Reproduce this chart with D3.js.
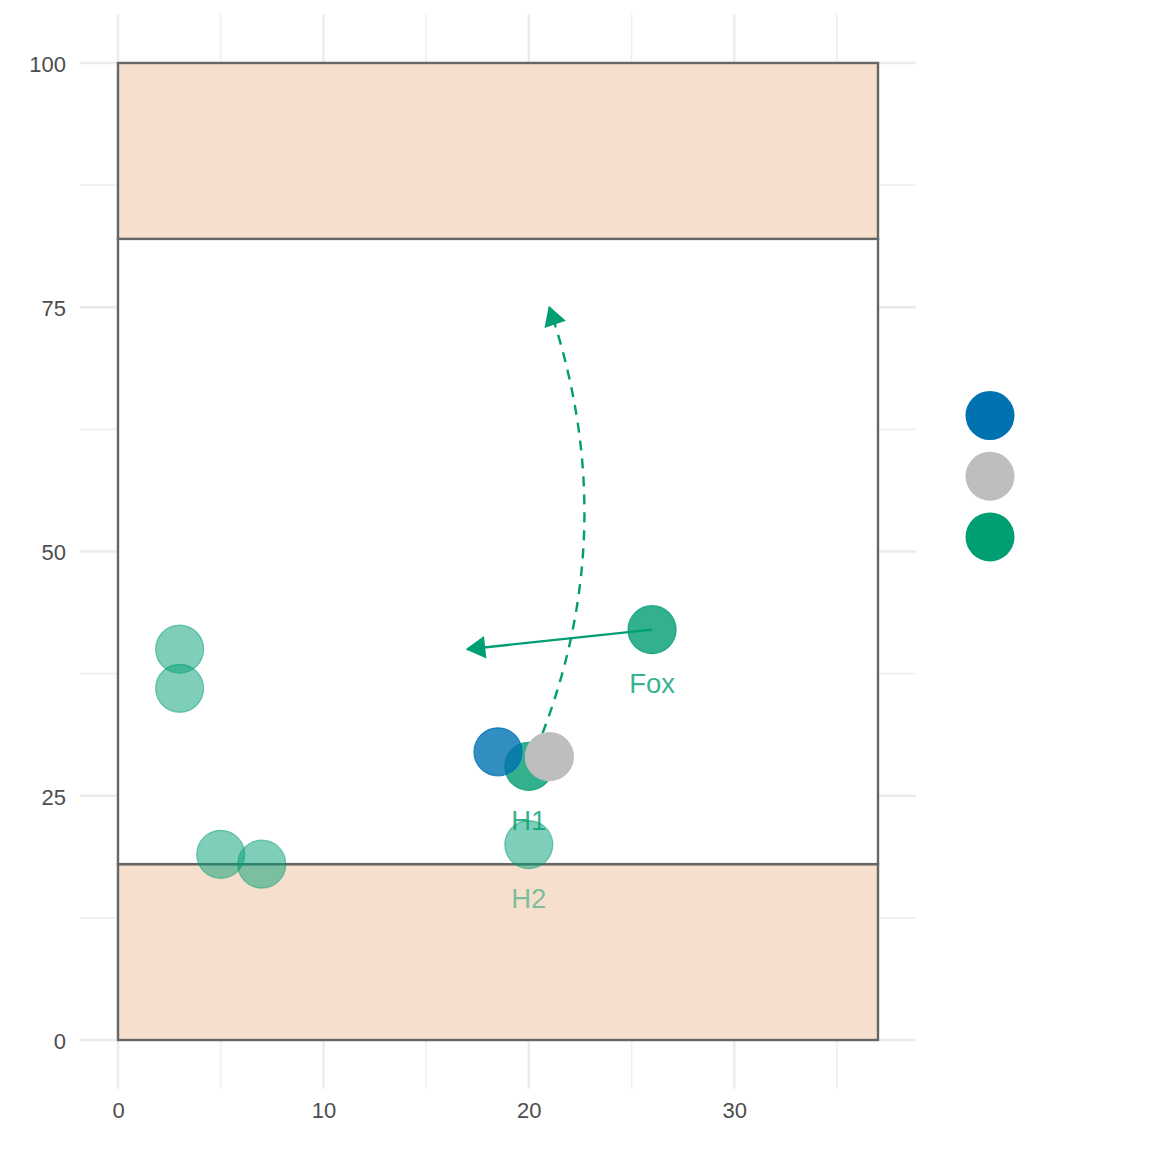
<!DOCTYPE html>
<html>
<head>
<meta charset="utf-8">
<script src="https://cdn.jsdelivr.net/npm/d3@7"></script>
<style>
  html, body { margin: 0; padding: 0; background: #ffffff; }
  svg { display: block; font-family: "Liberation Sans", Arial, Helvetica, sans-serif; }
</style>
</head>
<body>
<svg id="chart" width="1152" height="1152"></svg>
<script>
// ---- Data ----
const xTicks = [0, 10, 20, 30];
const yTicks = [0, 25, 50, 75, 100];
const xMinor = [5, 15, 25, 35];
const yMinor = [12.5, 37.5, 62.5, 87.5];

// field zones: [yStart, yEnd, filled]
const zoneStart = [0, 18, 82];
const zoneEnd = [18, 82, 100];
const zoneFilled = [true, false, true];
const fieldWidth = 37;

// points
const pointNames = ["p1", "p2", "p3", "p4", "H2", "Fox", "H1", "blue", "grey"];
const pointX = [3, 3, 5, 7, 20, 26, 20, 18.5, 21];
const pointY = [40, 36, 19, 18, 20, 42, 28, 29.5, 29];
const pointGroup = ["green", "green", "green", "green", "green", "green", "green", "blue", "grey"];
const pointAlpha = [0.5, 0.5, 0.5, 0.5, 0.5, 0.8, 0.8, 0.8, 1];

// labels
const labelText = ["Fox", "H1", "H2"];
const labelX = [26, 20, 20];
const labelY = [36.5, 22.5, 14.5];
const labelAlpha = [0.8, 0.8, 0.5];

// arrows
const solidArrowFrom = [26, 42];
const solidArrowTo = [17, 40];
const curveArrowFrom = [20, 28];
const curveArrowTo = [21, 75];
const curveCurvature = 0.39; // positive bends to the right of travel

// legend
const legendGroups = ["blue", "grey", "green"];
const colors = { blue: "#0072B2", grey: "#BEBEBE", green: "#009E73" };

// ---- Scales ----
const svg = d3.select("#chart");
const x = d3.scaleLinear().domain([0, fieldWidth]).range([118, 878]);
const y = d3.scaleLinear().domain([0, 100]).range([1040, 63]);
const xPadL = x(-0.05 * fieldWidth), xPadR = x(fieldWidth * 1.05);
const yPadB = y(-5), yPadT = y(105);

svg.append("rect").attr("width", 1152).attr("height", 1152).attr("fill", "#ffffff");

// ---- Grid ----
const grid = svg.append("g");
grid.selectAll(".vminor").data(xMinor).enter().append("line")
  .attr("x1", d => x(d)).attr("x2", d => x(d)).attr("y1", yPadT).attr("y2", yPadB)
  .attr("stroke", "#EFEFEF").attr("stroke-width", 1.6);
grid.selectAll(".hminor").data(yMinor).enter().append("line")
  .attr("y1", d => y(d)).attr("y2", d => y(d)).attr("x1", xPadL).attr("x2", xPadR)
  .attr("stroke", "#EFEFEF").attr("stroke-width", 1.6);
grid.selectAll(".vmajor").data(xTicks).enter().append("line")
  .attr("x1", d => x(d)).attr("x2", d => x(d)).attr("y1", yPadT).attr("y2", yPadB)
  .attr("stroke", "#EBEBEB").attr("stroke-width", 2.4);
grid.selectAll(".hmajor").data(yTicks).enter().append("line")
  .attr("y1", d => y(d)).attr("y2", d => y(d)).attr("x1", xPadL).attr("x2", xPadR)
  .attr("stroke", "#EBEBEB").attr("stroke-width", 2.4);

// ---- Axes tick labels ----
const xAxis = d3.axisBottom(x).tickValues(xTicks).tickSize(0).tickFormat(d3.format("d"));
const gx = svg.append("g").attr("transform", `translate(0, ${yPadB + 7})`).call(xAxis);
gx.select(".domain").remove();
gx.selectAll("text").attr("font-size", 22).attr("fill", "#4D4D4D")
  .attr("font-family", "Liberation Sans, Arial, sans-serif").attr("dy", "0.71em").attr("y", 7);

const yAxis = d3.axisLeft(y).tickValues(yTicks).tickSize(0).tickFormat(d3.format("d"));
const gy = svg.append("g").attr("transform", `translate(${xPadL - 14}, 0)`).call(yAxis);
gy.select(".domain").remove();
gy.selectAll("text").attr("font-size", 22).attr("fill", "#4D4D4D")
  .attr("font-family", "Liberation Sans, Arial, sans-serif").attr("dy", "0.38em").attr("x", 0);

// ---- Field zones ----
const zones = zoneStart.map((s, i) => ({ s, e: zoneEnd[i], f: zoneFilled[i] }));
svg.append("g").selectAll("rect").data(zones).enter().append("rect")
  .attr("x", x(0)).attr("width", x(fieldWidth) - x(0))
  .attr("y", d => y(d.e)).attr("height", d => y(d.s) - y(d.e))
  .attr("fill", d => d.f ? "#F6DFCC" : "#ffffff")
  .attr("stroke", "#666666").attr("stroke-width", 2.4);

// ---- Labels ----
const labels = labelText.map((t, i) => ({ t, x: labelX[i], y: labelY[i], a: labelAlpha[i] }));
svg.append("g").selectAll("text").data(labels).enter().append("text")
  .attr("x", d => x(d.x)).attr("y", d => y(d.y)).attr("dy", "0.36em")
  .attr("text-anchor", "middle").attr("font-size", 27.5)
  .attr("fill", colors.green).attr("fill-opacity", d => d.a)
  .text(d => d.t);

// ---- Points ----
const pts = pointNames.map((n, i) => ({ n, x: pointX[i], y: pointY[i], g: pointGroup[i], a: pointAlpha[i] }));
const R = 24;
function drawPoints(sel) {
  svg.append("g").selectAll("circle").data(sel).enter().append("circle")
    .attr("cx", d => x(d.x)).attr("cy", d => y(d.y)).attr("r", R)
    .attr("fill", d => colors[d.g]).attr("fill-opacity", d => d.a)
    .attr("stroke", d => colors[d.g]).attr("stroke-opacity", d => d.a)
    .attr("stroke-width", 1.2);
}
drawPoints(pts.filter(d => ["p1", "p2", "p3", "p4", "H2", "Fox", "H1"].includes(d.n)));

// ---- Arrows ----
function arrowHead(g, tipX, tipY, fromX, fromY) {
  const ang = Math.atan2(tipY - fromY, tipX - fromX);
  const L = 20, a = Math.PI / 6;
  const p1 = [tipX - L * Math.cos(ang - a), tipY - L * Math.sin(ang - a)];
  const p2 = [tipX - L * Math.cos(ang + a), tipY - L * Math.sin(ang + a)];
  g.append("path")
    .attr("d", `M${tipX},${tipY}L${p1[0]},${p1[1]}L${p2[0]},${p2[1]}Z`)
    .attr("fill", colors.green).attr("stroke", colors.green).attr("stroke-width", 1.5)
    .attr("stroke-linejoin", "miter");
}
const ag = svg.append("g");
// solid arrow
const sx0 = x(solidArrowFrom[0]), sy0 = y(solidArrowFrom[1]);
const sx1 = x(solidArrowTo[0]), sy1 = y(solidArrowTo[1]);
ag.append("line").attr("x1", sx0).attr("y1", sy0).attr("x2", sx1).attr("y2", sy1)
  .attr("stroke", colors.green).attr("stroke-width", 2.4);
arrowHead(ag, sx1, sy1, sx0, sy0);

// curved dashed arrow
const cx0 = x(curveArrowFrom[0]), cy0 = y(curveArrowFrom[1]);
const cx1 = x(curveArrowTo[0]), cy1 = y(curveArrowTo[1]);
const mx = (cx0 + cx1) / 2, my = (cy0 + cy1) / 2;
const dx = cx1 - cx0, dy = cy1 - cy0;
const len = Math.hypot(dx, dy);
const px = -dy / len, py = dx / len;
const off = curveCurvature * len / 2;
const ccx = mx + px * off, ccy = my + py * off;
ag.append("path")
  .attr("d", `M${cx0},${cy0}Q${ccx},${ccy} ${cx1},${cy1}`)
  .attr("fill", "none").attr("stroke", colors.green).attr("stroke-width", 2.4)
  .attr("stroke-dasharray", "10,8");
arrowHead(ag, cx1, cy1, ccx, ccy);

drawPoints(pts.filter(d => ["blue", "grey"].includes(d.n)));

// ---- Legend ----
svg.append("g").selectAll("circle").data(legendGroups).enter().append("circle")
  .attr("cx", 990).attr("cy", (d, i) => 415.5 + i * 60.7).attr("r", 24.5)
  .attr("fill", d => colors[d]);
</script>
</body>
</html>
